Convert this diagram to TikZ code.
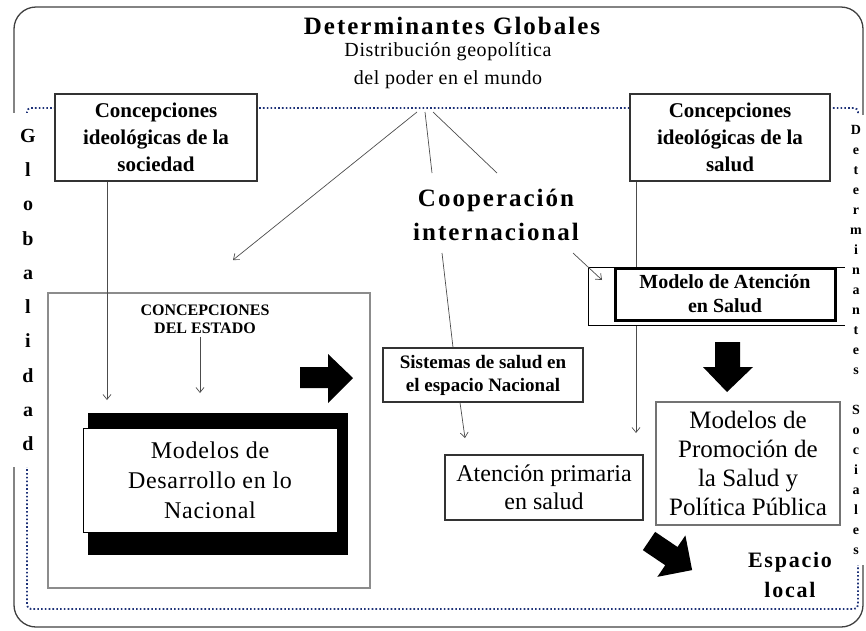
\documentclass[tikz,border=0pt]{standalone}
\usepackage{fontspec}
\setmainfont{Liberation Serif}
\newfontfamily\widefont[LetterSpace=8]{Liberation Serif}
\newfontfamily\lightfont[LetterSpace=3]{Liberation Serif}
\usetikzlibrary{arrows.meta}
\definecolor{dotblue}{RGB}{30,50,120}

\tikzstyle{frame} = [draw=black!75, line width=1.3pt, rounded corners=22pt]
\tikzstyle{dotline} = [draw=dotblue, line width=1.8pt, dash pattern=on 1.6pt off 2.2pt,
                       rounded corners=4pt]
\tikzstyle{arrow} = [draw=black!70, line width=0.7pt, ->,
                     >={Straight Barb[length=5pt,width=8pt]}]
\tikzstyle{line} = [draw=black!70, line width=0.7pt]
\tikzstyle{conbox} = [rectangle, draw=black!80, fill=white, line width=1.2pt,
                      minimum width=202pt, minimum height=87pt, align=center,
                      font=\bfseries\fontsize{21}{27}\selectfont]
\tikzstyle{midbox} = [rectangle, draw=black!80, fill=white, line width=1.2pt,
                      align=center, inner sep=0pt]
\tikzstyle{bigarrow} = [fill=black]
\tikzstyle{letters} = [fill=white, align=center, inner sep=0pt]

\begin{document}
\begin{tikzpicture}[x=1pt, y=-1pt]
  \useasboundingbox (0,0) rectangle (866,630);
  %frames
  \draw [frame] (14,7) rectangle (863,627);
  \draw [dotline] (27,108) rectangle (858,609);
  %titles
  \node (title) at (452,26) [font=\widefont\bfseries\fontsize{25}{28}\selectfont]
        {Determinantes Globales};
  \node (geo) at (448,66) [align=center, font=\lightfont\fontsize{20}{28}\selectfont]
        {Distribución geopolítica\\del poder en el mundo};
  \coordinate (hub) at (425,112);
  %blocks
  \node (estado) at (209,440.5) [rectangle, draw=black!45, line width=1.5pt,
        minimum width=322pt, minimum height=295pt] {};
  \node (estadotxt) at (205,319) [align=center,
        font=\bfseries\fontsize{16}{18}\selectfont] {CONCEPCIONES\\DEL ESTADO};
  \fill (88,413) rectangle (348,555);
  \node (desarrollo) at (210,480) [rectangle, draw=black, fill=white, thin,
        minimum width=254pt, minimum height=104pt, align=center,
        font=\lightfont\fontsize{24}{30}\selectfont] {Modelos de\\Desarrollo en lo\\Nacional};
  \node (concsoc) at (156,137.5) [conbox] {Concepciones\\ideológicas de la\\sociedad};
  \node (concsal) at (730,137.5) [conbox, minimum width=200pt]
        {Concepciones\\ideológicas de la\\salud};
  \node (coop) at (496,215) [align=center,
        font=\widefont\bfseries\fontsize{25}{34}\selectfont] {Cooperación\\internacional};
  \node (sistemas) at (483,375) [midbox, minimum width=200pt, minimum height=54pt,
        font=\bfseries\fontsize{19}{23}\selectfont] {Sistemas de salud en\\el espacio Nacional};
  \node (aps) at (544,487.5) [midbox, minimum width=198pt, minimum height=65pt,
        font=\fontsize{24}{28}\selectfont] {Atención primaria\\en salud};
  \node (promocion) at (748,463.5) [midbox, draw=black!55, line width=1.8pt,
        minimum width=184pt, minimum height=123pt, font=\fontsize{25}{29}\selectfont]
        {Modelos de\\Promoción de\\la Salud y\\Política Pública};
  \node (espacio) at (790,575) [align=center,
        font=\widefont\bfseries\fontsize{22}{30}\selectfont] {Espacio\\local};
  %connections
  \coordinate (socend) at (107,400);
  \coordinate (estend) at (200,393);
  \coordinate (salend) at (636,433);
  \coordinate (natend) at (233,260);
  \coordinate (coopl) at (432,173);
  \coordinate (coopr) at (497,173);
  \coordinate (coopd) at (442,253);
  \coordinate (coopm) at (573,253);
  \coordinate (apsend) at (465,438);
  \coordinate (atend) at (602,280);
  \draw [arrow] (socend |- concsoc.south) -- (socend);
  \draw [arrow] (estend |- estadotxt.south) -- (estend);
  \draw [arrow] (salend |- concsal.south) -- (salend);
  \draw [arrow] ([xshift=-8pt]hub) -- (natend);
  \draw [line] (hub) -- (coopl);
  \draw [line] ([xshift=8pt]hub) -- (coopr);
  \draw [line] (coopd) -- ([xshift=-30pt]sistemas.north);
  \draw [arrow] ([xshift=-23pt]sistemas.south) -- (apsend);
  % modelo de atencion
  \node (atencionbg) at (720,296) [rectangle, draw=black, fill=white, thin,
        minimum width=264pt, minimum height=58pt] {};
  \node (atencion) at (725,294) [rectangle, draw=black, fill=white, line width=3pt,
        minimum width=220pt, minimum height=52pt, align=center, inner sep=0pt,
        font=\bfseries\fontsize{20}{24}\selectfont] {Modelo de Atención\\en Salud};
  \draw [arrow] (coopm) -- (atend);
  % big arrows
  \fill [bigarrow] (300,367) -- (328,367) -- (328,354) -- (353,378) -- (328,403)
        -- (328,388) -- (300,388) -- cycle;
  \fill [bigarrow] (715,342) -- (740,342) -- (740,367) -- (753,367) -- (727,392)
        -- (703,367) -- (715,367) -- cycle;
  \fill [bigarrow, shift={(649,541)}, rotate=-34] (0,-11) -- (27,-11) -- (27,-25)
        -- (52,0) -- (27,25) -- (27,11) -- (0,11) -- cycle;
  % side labels
  \node (globalidad) at (28,290) [letters, minimum width=30pt, minimum height=354pt,
        font=\bfseries\fontsize{20}{34.3}\selectfont] {G\\l\\o\\b\\a\\l\\i\\d\\a\\d};
  \node (detsoc) at (856,340) [letters, minimum width=22pt, minimum height=450pt,
        font=\bfseries\fontsize{14}{20}\selectfont]
        {D\\e\\t\\e\\r\\m\\i\\n\\a\\n\\t\\e\\s\\[20pt]S\\o\\c\\i\\a\\l\\e\\s};
\end{tikzpicture}
\end{document}
